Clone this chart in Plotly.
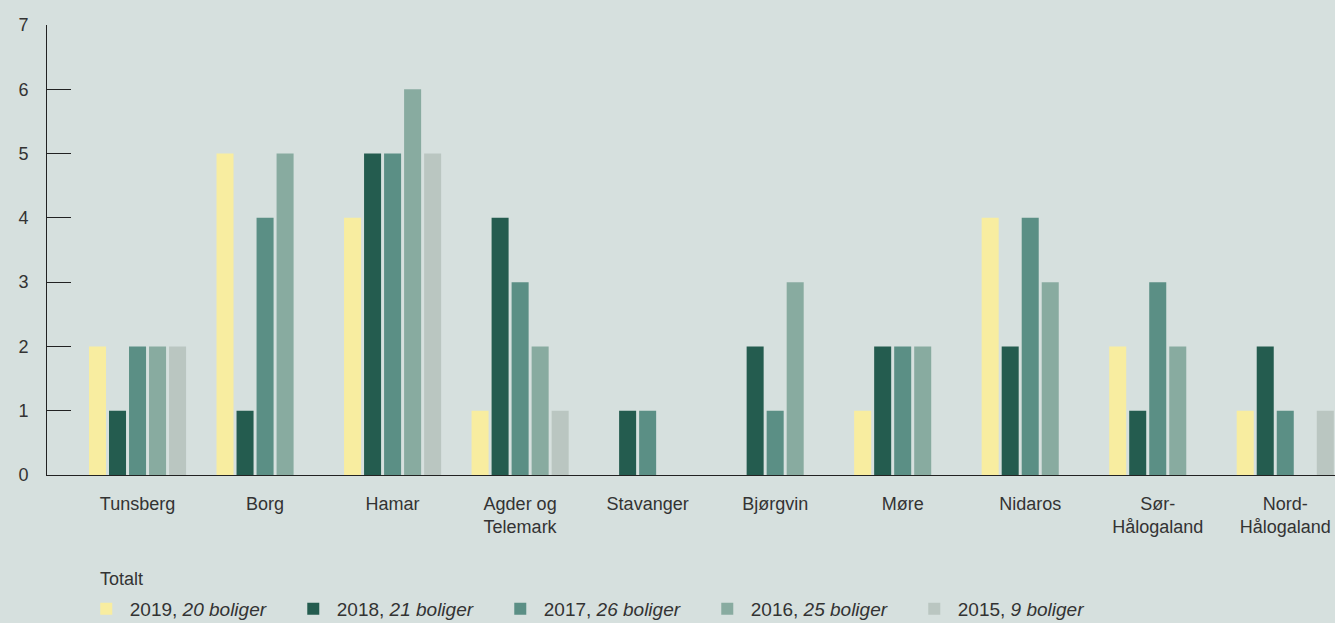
import plotly.graph_objects as go

categories = ["Tunsberg", "Borg", "Hamar", "Agder og<br>Telemark", "Stavanger",
              "Bjørgvin", "Møre", "Nidaros", "Sør-<br>Hålogaland", "Nord-<br>Hålogaland"]
series_names = ["2019, <i>20 boliger</i>", "2018, <i>21 boliger</i>", "2017, <i>26 boliger</i>",
                "2016, <i>25 boliger</i>", "2015, <i>9 boliger</i>"]
v2019 = [2, 5, 4, 1, 0, 0, 1, 4, 2, 1]
v2018 = [1, 1, 5, 4, 1, 2, 2, 2, 1, 2]
v2017 = [2, 4, 5, 3, 1, 1, 2, 4, 3, 1]
v2016 = [2, 5, 6, 2, 0, 3, 2, 3, 2, 0]
v2015 = [2, 0, 5, 1, 0, 0, 0, 0, 0, 1]
series_values = [v2019, v2018, v2017, v2016, v2015]
colors = ["#f8eda0", "#245c4f", "#5b8f85", "#88aba0", "#bac6c1"]
yticks = [0, 1, 2, 3, 4, 5, 6, 7]
legend_title = "Totalt"

BG = "#d6e0de"
FONT = "Liberation Sans, Arial, sans-serif"
TXT = "#333333"

fig = go.Figure()
for name, vals, col in zip(series_names, series_values, colors):
    fig.add_trace(go.Bar(x=categories, y=vals, name=name, marker_color=col,
                         marker_line_width=0))

fig.update_layout(
    width=1335, height=623,
    paper_bgcolor=BG, plot_bgcolor=BG,
    margin=dict(l=47, r=0, t=25, b=148),
    barmode="group", bargap=0.215, bargroupgap=0.15,
    font=dict(family=FONT, size=18, color=TXT),
    showlegend=True,
    legend=dict(
        orientation="h", xref="container", yref="container",
        x=0.062, y=0.053, xanchor="left", yanchor="top",
        font=dict(size=19, color=TXT),
        itemwidth=37,
        entrywidth=155, entrywidthmode="pixels",
        bgcolor="rgba(0,0,0,0)",
    ),
    annotations=[dict(text=legend_title, xref="paper", yref="paper",
                      x=(98 - 47) / 1288, y=-(579 - 475) / 450,
                      xanchor="left", yanchor="middle", showarrow=False,
                      font=dict(size=18, color=TXT))],
)
fig.update_xaxes(
    range=[-0.71, 9.39], showgrid=False, showline=True, linecolor="#222222",
    linewidth=1, ticks="", tickfont=dict(size=18, color=TXT),
    ticklabelstandoff=12,
)
fig.update_yaxes(
    range=[0, 7], tickvals=yticks, showgrid=False, zeroline=False,
    showline=True, linecolor="#222222", linewidth=1,
    ticks="inside", ticklen=24, tickcolor="#222222", tickwidth=1,
    tickfont=dict(size=18, color=TXT), ticklabelstandoff=14,
)

fig.write_html("out.html", config={"displayModeBar": False},
               post_script="document.body.style.margin='0';document.body.style.padding='0';")
